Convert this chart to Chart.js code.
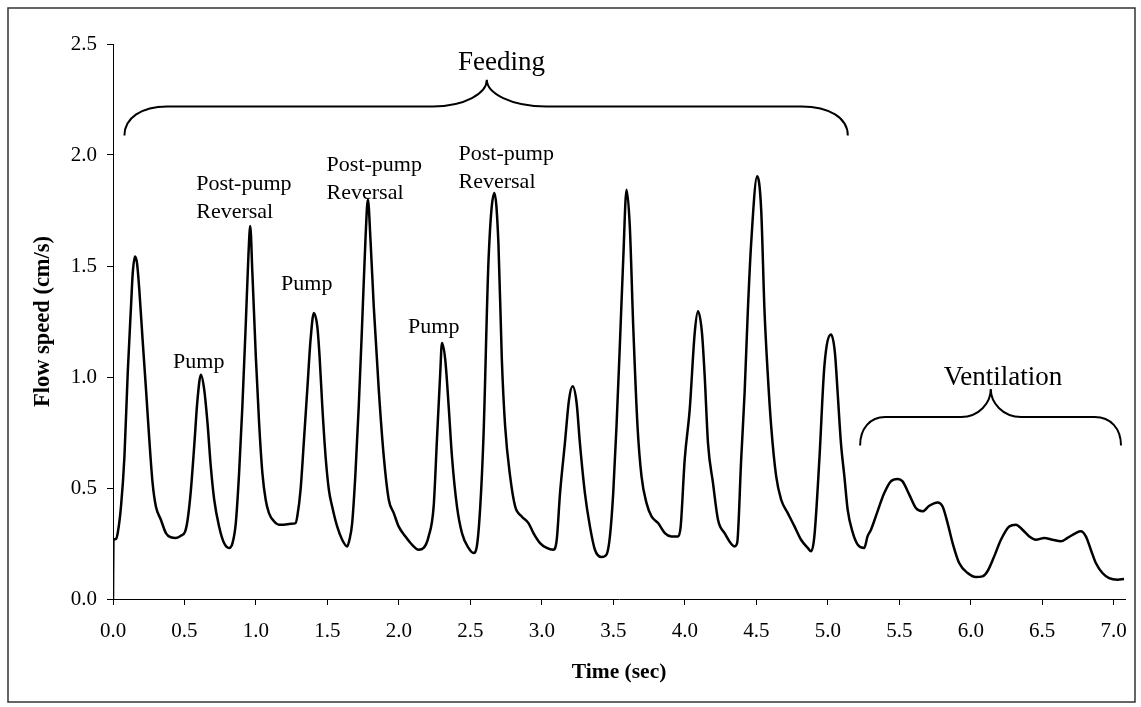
<!DOCTYPE html>
<html>
<head>
<meta charset="utf-8">
<script src="https://cdn.jsdelivr.net/npm/chart.js@4"></script>
<style>
  html, body { margin: 0; padding: 0; background: #fff; }
  #wrap { width: 1141px; height: 707px; position: relative; }
</style>
</head>
<body>
<div id="wrap"><canvas id="flowChart"></canvas></div>
<script>
// time (sec) and flow speed (cm/s)
const timeSec = [
  0, 0.003, 0.021, 0.033, 0.056, 0.080, 0.103, 0.126, 0.138, 0.154, 0.168, 0.184, 0.207, 0.231, 0.254, 0.277, 0.300,
  0.335, 0.370, 0.405, 0.440, 0.475, 0.505, 0.522, 0.545, 0.568, 0.591, 0.615, 0.638, 0.661, 0.684, 0.708, 0.742,
  0.777, 0.812, 0.836, 0.859, 0.882, 0.905, 0.929, 0.947, 0.960, 0.975, 0.999, 1.022, 1.045, 1.068, 1.091, 1.126,
  1.161, 1.196, 1.243, 1.277, 1.289, 1.312, 1.336, 1.359, 1.382, 1.405, 1.429, 1.445, 1.464, 1.487, 1.510, 1.533,
  1.568, 1.603, 1.638, 1.654, 1.673, 1.696, 1.719, 1.743, 1.766, 1.783, 1.801, 1.824, 1.859, 1.894, 1.929, 1.964,
  1.998, 2.045, 2.091, 2.138, 2.173, 2.208, 2.243, 2.266, 2.289, 2.301, 2.324, 2.348, 2.371, 2.406, 2.441, 2.487,
  2.522, 2.545, 2.569, 2.592, 2.627, 2.668, 2.696, 2.720, 2.743, 2.778, 2.813, 2.859, 2.906, 2.941, 2.987, 3.034,
  3.080, 3.104, 3.127, 3.161, 3.190, 3.215, 3.243, 3.266, 3.301, 3.336, 3.371, 3.417, 3.452, 3.476, 3.499, 3.522,
  3.546, 3.569, 3.592, 3.615, 3.639, 3.669, 3.697, 3.732, 3.767, 3.813, 3.860, 3.906, 3.953, 3.971, 3.999, 4.034,
  4.069, 4.092, 4.120, 4.139, 4.162, 4.197, 4.232, 4.278, 4.348, 4.366, 4.394, 4.418, 4.441, 4.464, 4.506, 4.534,
  4.557, 4.581, 4.604, 4.639, 4.674, 4.720, 4.767, 4.813, 4.860, 4.883, 4.906, 4.941, 4.976, 5.023, 5.050, 5.069,
  5.092, 5.116, 5.139, 5.174, 5.209, 5.255, 5.278, 5.302, 5.348, 5.395, 5.441, 5.488, 5.523, 5.570, 5.616, 5.663,
  5.710, 5.768, 5.803, 5.838, 5.873, 5.919, 5.978, 6.036, 6.082, 6.117, 6.164, 6.211, 6.269, 6.316, 6.362, 6.409,
  6.455, 6.514, 6.572, 6.630, 6.677, 6.735, 6.770, 6.805, 6.840, 6.875, 6.921, 6.968, 7.026, 7.072
];
const flowSpeed = [
  0, 0.267, 0.270, 0.297, 0.417, 0.642, 1.018, 1.318, 1.468, 1.543, 1.513, 1.393, 1.168, 0.943, 0.718, 0.522, 0.417,
  0.357, 0.297, 0.278, 0.275, 0.285, 0.305, 0.357, 0.492, 0.688, 0.898, 1.010, 0.943, 0.793, 0.597, 0.447, 0.327,
  0.252, 0.230, 0.252, 0.342, 0.567, 0.868, 1.243, 1.543, 1.680, 1.468, 1.093, 0.793, 0.567, 0.447, 0.387, 0.350,
  0.335, 0.335, 0.339, 0.342, 0.372, 0.492, 0.718, 0.943, 1.168, 1.288, 1.228, 1.093, 0.868, 0.642, 0.492, 0.417,
  0.327, 0.267, 0.237, 0.267, 0.342, 0.567, 0.868, 1.243, 1.620, 1.800, 1.620, 1.318, 0.943, 0.642, 0.447, 0.387,
  0.327, 0.282, 0.245, 0.222, 0.230, 0.282, 0.417, 0.718, 1.018, 1.153, 1.078, 0.868, 0.642, 0.417, 0.297, 0.230,
  0.207, 0.237, 0.417, 0.740, 1.529, 1.829, 1.603, 1.078, 0.778, 0.552, 0.417, 0.372, 0.342, 0.297, 0.252, 0.230,
  0.222, 0.267, 0.477, 0.702, 0.898, 0.958, 0.883, 0.702, 0.477, 0.327, 0.222, 0.189, 0.200, 0.282, 0.477, 0.778,
  1.153, 1.529, 1.844, 1.679, 1.228, 0.778, 0.552, 0.432, 0.372, 0.342, 0.297, 0.282, 0.282, 0.327, 0.628, 0.853,
  1.198, 1.296, 1.198, 1.003, 0.702, 0.522, 0.357, 0.297, 0.237, 0.252, 0.628, 0.928, 1.303, 1.603, 1.904, 1.754,
  1.303, 1.003, 0.778, 0.552, 0.447, 0.387, 0.327, 0.267, 0.230, 0.215, 0.282, 0.628, 1.048, 1.191, 1.108, 0.928,
  0.702, 0.552, 0.402, 0.300, 0.245, 0.230, 0.282, 0.312, 0.395, 0.477, 0.530, 0.540, 0.530, 0.470, 0.410, 0.395,
  0.420, 0.435, 0.417, 0.342, 0.252, 0.162, 0.117, 0.099, 0.102, 0.125, 0.192, 0.267, 0.327, 0.335, 0.312, 0.282,
  0.267, 0.275, 0.267, 0.260, 0.275, 0.297, 0.305, 0.282, 0.222, 0.162, 0.117, 0.094, 0.087, 0.090
];

const xTicks = [0, 0.5, 1, 1.5, 2, 2.5, 3, 3.5, 4, 4.5, 5, 5.5, 6, 6.5, 7];
const yTicks = [0, 0.5, 1, 1.5, 2, 2.5];

// text notes on the trace, in data units
const peakLabels = [
  { x: 0.420, y: 1.042, lines: ['Pump'] },
  { x: 1.176, y: 1.393, lines: ['Pump'] },
  { x: 2.064, y: 1.199, lines: ['Pump'] },
  { x: 0.582, y: 1.844, lines: ['Post-pump', 'Reversal'] },
  { x: 1.494, y: 1.926, lines: ['Post-pump', 'Reversal'] },
  { x: 2.417, y: 1.979, lines: ['Post-pump', 'Reversal'] }
];
const phaseBraces = [
  { text: 'Feeding', tx: 2.717, ty: 2.384, x0: 0.080, x1: 0.378, xs: 2.236, xc: 2.615, xe: 3.031, x2: 4.817, x3: 5.140, yEnd: 2.088, yLine: 2.219, yTip: 2.339 },
  { text: 'Ventilation', tx: 6.226, ty: 0.965, x0: 5.226, x1: 5.401, xs: 5.933, xc: 6.140, xe: 6.352, x2: 6.868, x3: 7.051, yEnd: 0.691, yLine: 0.820, yTip: 0.946 }
];

const serif = '"Liberation Serif", "Times New Roman", serif';

const notesPlugin = {
  id: 'notes',
  afterDatasetsDraw(chart) {
    const ctx = chart.ctx;
    const sx = chart.scales.x, sy = chart.scales.y;
    ctx.save();
    ctx.strokeStyle = '#000';
    ctx.fillStyle = '#000';
    ctx.lineWidth = 2;

    phaseBraces.forEach(b => {
      const X = v => sx.getPixelForValue(v);
      const Y = v => sy.getPixelForValue(v);
      const yE = Y(b.yEnd), yL = Y(b.yLine), yT = Y(b.yTip);
      const h = yL - yT;
      ctx.beginPath();
      ctx.moveTo(X(b.x0), yE);
      ctx.bezierCurveTo(X(b.x0), yE - 0.6 * (yE - yL), X(b.x1) - 0.6 * (X(b.x1) - X(b.x0)), yL, X(b.x1), yL);
      ctx.lineTo(X(b.xs), yL);
      ctx.bezierCurveTo(X(b.xs) + 0.6 * (X(b.xc) - X(b.xs)), yL, X(b.xc), yT + 0.5 * h, X(b.xc), yT);
      ctx.bezierCurveTo(X(b.xc), yT + 0.5 * h, X(b.xe) - 0.6 * (X(b.xe) - X(b.xc)), yL, X(b.xe), yL);
      ctx.lineTo(X(b.x2), yL);
      ctx.bezierCurveTo(X(b.x2) + 0.6 * (X(b.x3) - X(b.x2)), yL, X(b.x3), yE - 0.6 * (yE - yL), X(b.x3), yE);
      ctx.stroke();

      ctx.font = '27px ' + serif;
      ctx.textAlign = 'center';
      ctx.textBaseline = 'alphabetic';
      ctx.fillText(b.text, X(b.tx), Y(b.ty));
    });

    ctx.font = '22px ' + serif;
    ctx.textAlign = 'left';
    ctx.textBaseline = 'alphabetic';
    peakLabels.forEach(l => {
      l.lines.forEach((t, i) => {
        ctx.fillText(t, sx.getPixelForValue(l.x), sy.getPixelForValue(l.y) + i * 28);
      });
    });

    // frame round the whole figure
    ctx.lineWidth = 1.5;
    ctx.strokeStyle = '#333';
    ctx.strokeRect(8, 8, 1127, 694);
    ctx.restore();
  }
};

const points = timeSec.map((t, i) => ({ x: t, y: flowSpeed[i] }));

new Chart(document.getElementById('flowChart'), {
  type: 'line',
  data: {
    datasets: [{
      data: points,
      borderColor: '#000',
      borderWidth: 2.5,
      pointRadius: 0,
      fill: false,
      cubicInterpolationMode: 'monotone'
    }]
  },
  options: {
    responsive: true,
    maintainAspectRatio: false,
    animation: false,
    layout: { padding: { left: 0, right: 14, top: 44, bottom: 0 } },
    plugins: { legend: { display: false }, tooltip: { enabled: false } },
    scales: {
      x: {
        type: 'linear',
        min: 0,
        max: 7.08,
        afterBuildTicks: s => { s.ticks = xTicks.map(v => ({ value: v })); },
        afterFit: s => { s.height = 108; },
        grid: { drawOnChartArea: false, drawTicks: true, tickLength: 6, color: '#000' },
        border: { color: '#000', width: 1 },
        ticks: {
          maxRotation: 0,
          autoSkip: false,
          padding: 14,
          color: '#000',
          font: { family: serif, size: 21 },
          callback: v => Number(v).toFixed(1)
        },
        title: {
          display: true,
          text: 'Time (sec)',
          color: '#000',
          font: { family: serif, size: 21.5, weight: 'bold' },
          padding: { top: 0, bottom: 22 }
        }
      },
      y: {
        min: 0,
        max: 2.5,
        afterBuildTicks: s => { s.ticks = yTicks.map(v => ({ value: v })); },
        afterFit: s => { s.width = 113; },
        grid: { drawOnChartArea: false, drawTicks: true, tickLength: 6, color: '#000' },
        border: { color: '#000', width: 1 },
        ticks: {
          padding: 10,
          color: '#000',
          font: { family: serif, size: 21 },
          callback: v => Number(v).toFixed(1)
        },
        title: {
          display: true,
          text: 'Flow speed (cm/s)',
          color: '#000',
          font: { family: serif, size: 22.5, weight: 'bold' },
          padding: { top: 30, bottom: 0 }
        }
      }
    }
  },
  plugins: [notesPlugin]
});
</script>
</body>
</html>
